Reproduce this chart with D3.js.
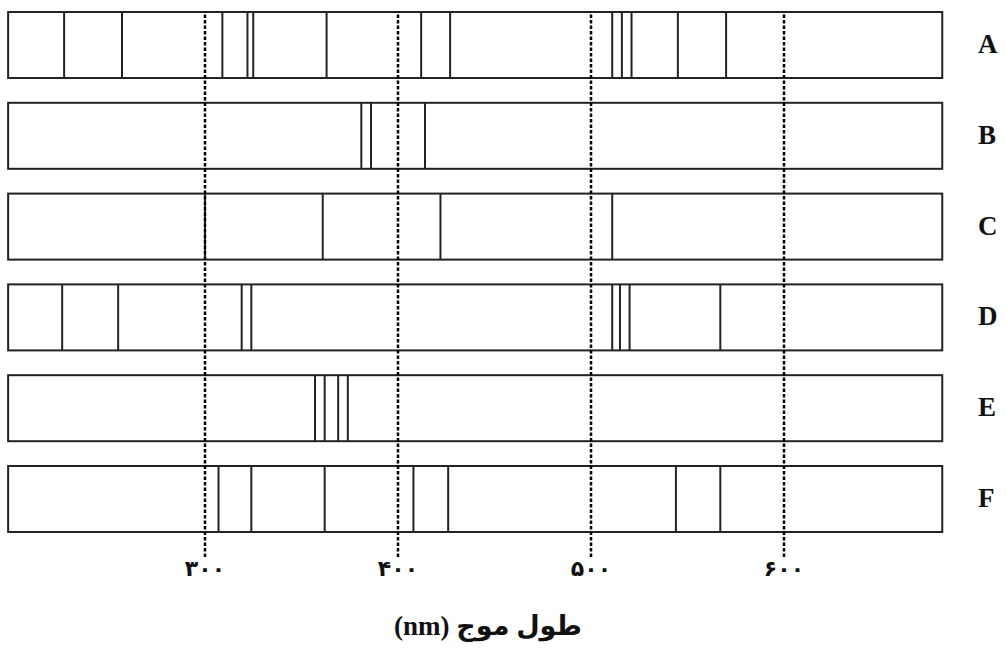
<!DOCTYPE html>
<html>
<head>
<meta charset="utf-8">
<script src="https://cdn.jsdelivr.net/npm/d3@7"></script>
<style>
  body { margin: 0; background: #fff; }
  svg { display: block; }
  .frame { fill: none; stroke: #222; stroke-width: 2; }
  .band-line { stroke: #222; stroke-width: 2; }
  .guide line { stroke: #000; stroke-width: 2.5; stroke-dasharray: 3.5 2; }
  .row-label { font-family: "Liberation Serif", serif; font-weight: bold; font-size: 27px; fill: #111; }
  .tick-label { font-family: "DejaVu Sans", sans-serif; font-weight: bold; font-size: 22px; letter-spacing: 3px; fill: #111; }
  .axis-title { font-family: "Liberation Serif", "DejaVu Sans", serif; font-weight: bold; font-size: 27px; fill: #111; }
</style>
</head>
<body>
<svg id="chart" width="1006" height="648"></svg>
<script>
// spectrum samples, wavelengths (nm) of the lines in each strip
const samples = ["A", "B", "C", "D", "E", "F"];
const linesA = [227, 257, 309, 322, 325, 363, 412, 427, 511, 516, 521, 545, 570];
const linesB = [381, 386, 414];
const linesC = [300, 361, 422, 511];
const linesD = [226, 255, 319, 324, 511, 515, 520, 567];
const linesE = [357, 362, 369, 374];
const linesF = [307, 324, 362, 408, 426, 544, 567];
const wavelengthRange = [198, 682];
const tickValues = [300, 400, 500, 600];
const axisTitle = "طول موج (nm)";

const spectra = samples.map((name, i) => ({
  name,
  lines: [linesA, linesB, linesC, linesD, linesE, linesF][i],
}));

const toPersianDigits = (n) =>
  String(n).replace(/\d/g, (c) => "۰۱۲۳۴۵۶۷۸۹"[+c]);

const svg = d3.select("#chart");

const x = d3.scaleLinear().domain([300, 600]).range([205, 784]);
const y = d3
  .scaleBand()
  .domain(samples)
  .range([12, 532])
  .paddingInner(0.273)
  .paddingOuter(0);

const guideBottom = 557;

// the strips
const strip = svg
  .append("g")
  .selectAll("g")
  .data(spectra)
  .enter()
  .append("g")
  .attr("transform", (d) => `translate(0, ${y(d.name)})`);

strip
  .append("rect")
  .attr("class", "frame")
  .attr("x", x(wavelengthRange[0]))
  .attr("width", x(wavelengthRange[1]) - x(wavelengthRange[0]))
  .attr("height", y.bandwidth());

strip
  .selectAll("line")
  .data((d) => d.lines)
  .enter()
  .append("line")
  .attr("class", "band-line")
  .attr("x1", (d) => x(d))
  .attr("x2", (d) => x(d))
  .attr("y1", 0)
  .attr("y2", y.bandwidth());

strip
  .append("text")
  .attr("class", "row-label")
  .attr("x", 978)
  .attr("y", y.bandwidth() / 2 + 8)
  .text((d) => d.name);

// dashed guides + persian tick labels
const axis = d3
  .axisBottom(x)
  .tickValues(tickValues)
  .tickSize(-(guideBottom - 12))
  .offset(0)
  .tickFormat(toPersianDigits);

const guides = svg
  .append("g")
  .attr("class", "guide")
  .attr("transform", `translate(0, ${guideBottom})`)
  .call(axis);

guides.select(".domain").remove();
guides
  .selectAll("text")
  .attr("class", "tick-label")
  .attr("y", 19)
  .attr("dy", 0)
  .attr("fill", null)
  .attr("font-size", null)
  .attr("font-family", null);

svg
  .append("text")
  .attr("class", "axis-title")
  .attr("x", 488)
  .attr("y", 635)
  .attr("text-anchor", "middle")
  .attr("direction", "rtl")
  .text(axisTitle);
</script>
</body>
</html>
